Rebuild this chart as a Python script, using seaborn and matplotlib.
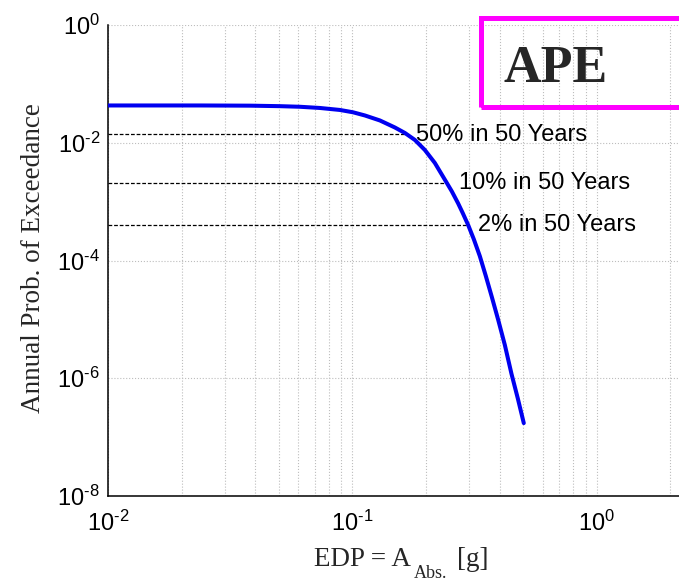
import matplotlib
matplotlib.use("Agg")
import matplotlib.pyplot as plt
from matplotlib.patches import Rectangle
from matplotlib.ticker import FixedLocator, NullLocator, FuncFormatter, NullFormatter
import numpy as np
import pandas as pd
import seaborn as sns

# Hazard curve: engineering demand parameter (absolute acceleration, g)
# versus annual probability of exceedance
edp_g = [0.0100, 0.0238, 0.0381, 0.0505, 0.0610, 0.0736, 0.0889, 0.1005,
         0.1125, 0.1296, 0.1492, 0.1640, 0.1802, 0.1979, 0.2175, 0.2428,
         0.2552, 0.2708, 0.2831, 0.2976, 0.3140, 0.3322, 0.3515, 0.3720,
         0.3948, 0.4205, 0.4478, 0.4753, 0.5028]
annual_prob = [0.04298, 0.04298, 0.04265, 0.04182, 0.04085, 0.03898, 0.03605,
               0.03295, 0.02908, 0.02391, 0.01818, 0.01467, 0.01116, 0.007545,
               0.004540, 0.002118, 0.001496, 0.0009357, 0.0006355, 0.0004021,
               0.0002299, 0.0001192, 5.477e-5, 2.410e-5, 9.922e-6, 3.690e-6,
               1.188e-6, 4.540e-7, 1.729e-7]

# Design hazard levels and the EDP at which the curve reaches them
hazard_labels = ["50% in 50 Years", "10% in 50 Years", "2% in 50 Years"]
hazard_rate = [0.0139, 0.0021, 0.000404]
hazard_edp = [0.167, 0.2428, 0.2966]
label_x = [0.1818, 0.2734, 0.327]

x_major = [1e-2, 1e-1, 1e0, 1e1]
x_minor = [m * d for d in (1e-2, 1e-1, 1e0) for m in range(2, 10)]
y_major = [1e-8, 1e-6, 1e-4, 1e-2, 1e0]

W, H = 679, 583


def fx(px):
    return px / W


def fy(py):
    return 1 - py / H


sns.set_style("white")
plt.rcParams.update({
    "font.family": ["Liberation Sans", "DejaVu Sans"],
    "mathtext.fontset": "custom",
    "mathtext.rm": "Liberation Sans",
    "mathtext.it": "Liberation Sans:italic",
    "mathtext.bf": "Liberation Sans:bold",
    "mathtext.default": "regular",
    "axes.unicode_minus": False,
})

fig = plt.figure(figsize=(W / 100, H / 100), dpi=100)
ax = fig.add_axes([fx(108), fy(496), (694 - 108) / W, (496 - 25) / H])
ax.set_xscale("log")
ax.set_yscale("log")

df = pd.DataFrame({"edp": edp_g, "ape": annual_prob})
sns.lineplot(data=df, x="edp", y="ape", ax=ax, color="#0000f0", lw=2.9,
             sort=False, zorder=3)
ax.set_xlabel("")
ax.set_ylabel("")

# Dashed reference lines up to the curve
ax.hlines(hazard_rate, 1e-2, hazard_edp, colors="black",
          linestyles=(0, (3, 1.5)), lw=0.9, zorder=2)
for lab, yv, xv in zip(hazard_labels, hazard_rate, label_x):
    ax.annotate(lab, xy=(xv, yv), xytext=(0, -4.5), textcoords="offset points",
                ha="left", va="baseline", fontsize=17,
                family="Liberation Sans", color="black", zorder=4)

ax.set_xlim(1e-2, 2.5)
ax.set_ylim(1e-8, 1)

ax.xaxis.set_major_locator(FixedLocator(x_major))
ax.xaxis.set_minor_locator(FixedLocator(x_minor))
ax.yaxis.set_major_locator(FixedLocator(y_major))
ax.yaxis.set_minor_locator(NullLocator())


def pow_label(v, pos):
    e = int(round(np.log10(v)))
    sign = "\u2010" if e < 0 else ""
    return r"$10^{%s%d}$" % (sign, abs(e))


ax.xaxis.set_major_formatter(FuncFormatter(pow_label))
ax.yaxis.set_major_formatter(FuncFormatter(pow_label))
ax.xaxis.set_minor_formatter(NullFormatter())

ax.tick_params(axis="both", which="major", direction="in", length=4.3,
               width=1.0, labelsize=17, color="black", labelcolor="black")
ax.tick_params(axis="x", which="major", pad=10.5)
ax.tick_params(axis="y", which="major", pad=5.8)
ax.tick_params(axis="x", which="minor", direction="in", length=2.9,
               width=0.8, color="black")

ax.set_axisbelow(True)
ax.grid(True, which="major", axis="both", ls=":", color="#bdbdbd", lw=0.8)
ax.grid(True, which="minor", axis="x", ls=":", color="#bdbdbd", lw=0.8)

for side in ("top", "right"):
    ax.spines[side].set_visible(False)
for side in ("left", "bottom"):
    ax.spines[side].set_color("black")
    ax.spines[side].set_linewidth(1.1)

# Axis titles
fig.text(fx(21.5), fy(258), "Annual Prob. of Exceedance", rotation=90,
         ha="left", va="center", family="Liberation Serif", fontsize=19.5)

fig.canvas.draw()
renderer = fig.canvas.get_renderer()
t1 = fig.text(fx(314), fy(566), "EDP = A", ha="left", va="baseline",
              family="Liberation Serif", fontsize=19.5)
x1 = t1.get_window_extent(renderer).x1
t2 = fig.text((x1 + 3) / W, fy(578.5), "Abs.", ha="left", va="baseline",
              family="Liberation Serif", fontsize=13)
x2 = t2.get_window_extent(renderer).x1
fig.text((x2 + 10) / W, fy(566), "[g]", ha="left", va="baseline",
         family="Liberation Serif", fontsize=19.5)

# Panel tag
fig.add_artist(Rectangle((fx(481), fy(106.5)), 1.2, (106.5 - 18.3) / H,
                         transform=fig.transFigure, fill=False,
                         edgecolor="#ff00ff", lw=3.6, clip_on=False))
fig.text(fx(503), fy(81.7), "APE", ha="left", va="baseline",
         family="Liberation Serif", fontweight="bold", fontsize=37.5)

fig.savefig("out.png", dpi=100)
